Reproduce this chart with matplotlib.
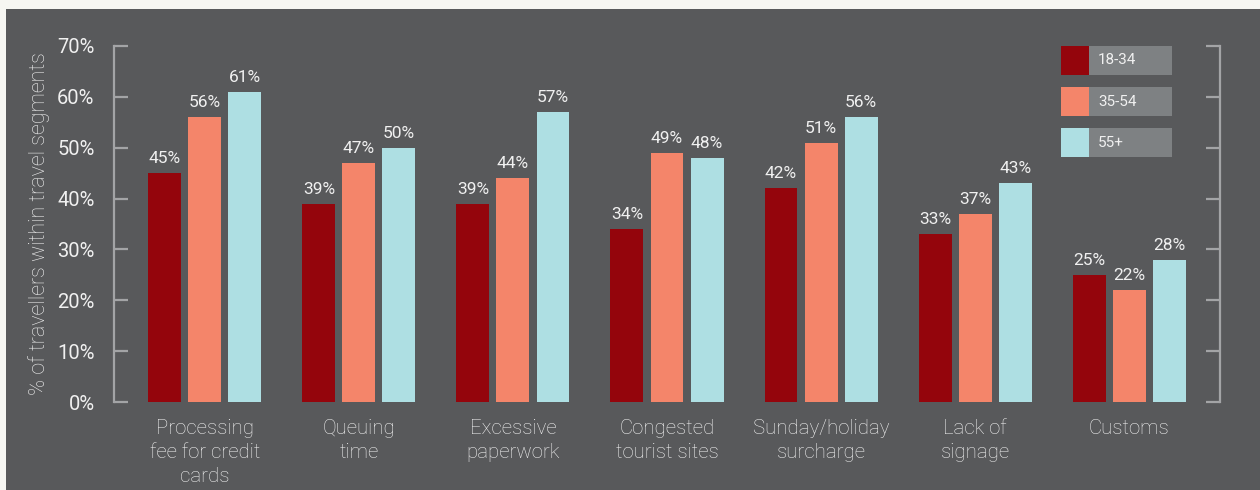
import matplotlib.pyplot as plt
import numpy as np
from matplotlib.patches import Rectangle

plt.rcParams['font.family'] = ['Roboto', 'DejaVu Sans']

# survey results by age group
categories = ['Processing\nfee for credit\ncards', 'Queuing\ntime', 'Excessive\npaperwork',
              'Congested\ntourist sites', 'Sunday/holiday\nsurcharge', 'Lack of\nsignage', 'Customs']
age_groups = ['18-34', '35-54', '55+']
vals_18_34 = [45, 39, 39, 34, 42, 33, 25]
vals_35_54 = [56, 47, 44, 49, 51, 37, 22]
vals_55 = [61, 50, 57, 48, 56, 43, 28]
yticks = [0, 10, 20, 30, 40, 50, 60, 70]

colors = ['#94050c', '#f4856a', '#aedfe3']
bg = '#58595b'
axis_col = '#a3a4a6'
txt = '#f0f0f0'

fig = plt.figure(figsize=(12.6, 4.9), dpi=100)
fig.patch.set_facecolor('#f6f6f2')
fig.patches.append(Rectangle((6 / 1260, 0), 1 - 6 / 1260, 481 / 490,
                             transform=fig.transFigure, facecolor=bg, edgecolor='none', zorder=-10))

ax = fig.add_axes([114 / 1260, 1 - 402 / 490, (1220 - 114) / 1260, (402 - 46) / 490])
ax.set_facecolor('none')
ax.set_zorder(5)

x = np.arange(len(categories))
w = 0.214
off = 0.26
for i, vals in enumerate([vals_18_34, vals_35_54, vals_55]):
    xs = x + (i - 1) * off
    ax.bar(xs, vals, width=w, color=colors[i], zorder=2)
    for xi, v in zip(xs, vals):
        ax.annotate(f'{v}%', (xi, v), xytext=(0, 5), textcoords='offset points',
                    ha='center', va='bottom', color=txt, fontsize=12.5)

ax.set_xlim(-0.59, 6.59)
ax.set_ylim(0, 70)
ax.set_yticks(yticks)
ax.set_yticklabels([f'{t}%' for t in yticks], color=txt, fontsize=14.5)
ax.set_xticks(x)
ax.set_xticklabels(categories, color=txt, fontsize=14.7, fontweight='light', linespacing=1.35)

for s in ['top', 'bottom']:
    ax.spines[s].set_visible(False)
for s in ['left', 'right']:
    ax.spines[s].set_color(axis_col)
    ax.spines[s].set_linewidth(1.6)

ax.tick_params(axis='y', direction='in', length=10, width=1.6, color=axis_col,
               right=True, pad=14)
ax.tick_params(axis='x', length=0, pad=12)
ax.set_ylabel('% of travellers within travel segments', color=txt, fontsize=15.5,
              fontweight='light', labelpad=5)

# legend boxes in the top right
for i, (lab, c) in enumerate(zip(age_groups, colors)):
    y0 = 1 - (75 + 41 * i) / 490
    fig.patches.append(Rectangle((1061 / 1260, y0), 111 / 1260, 29 / 490,
                                 transform=fig.transFigure, facecolor='#7e8183', edgecolor='none', zorder=10))
    fig.patches.append(Rectangle((1061 / 1260, y0), 28 / 1260, 29 / 490,
                                 transform=fig.transFigure, facecolor=c, edgecolor='none', zorder=11))
    fig.text(1098 / 1260, y0 + 14.5 / 490, lab, color=txt, fontsize=11, va='center', ha='left', zorder=12)

fig.savefig('out.png', dpi=100, facecolor=fig.get_facecolor())
